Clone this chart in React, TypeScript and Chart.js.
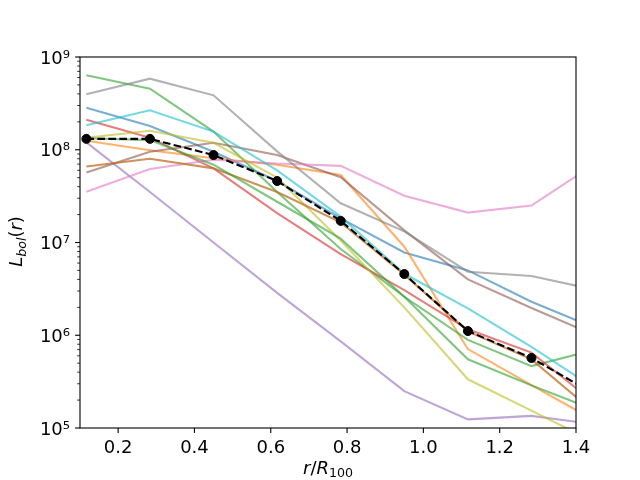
import React, { useEffect, useRef } from "react";
import { Chart, registerables } from "chart.js";

Chart.register(...registerables);

// Radial bin centres (r / R100)
const radii = [0.1167, 0.2833, 0.45, 0.6167, 0.7833, 0.95, 1.1167, 1.2833, 1.45];

// Axis ticks
const xTicks = [0.2, 0.4, 0.6, 0.8, 1.0, 1.2, 1.4];
const yTicks = [1e5, 1e6, 1e7, 1e8, 1e9];
const yTickLabels = ["10⁵", "10⁶", "10⁷", "10⁸", "10⁹"];

// Individual profiles L_bol(r)
const lumBlue = [2.84e8, 1.8e8, 9.5e7, 4.6e7, 1.82e7, 7.8e6, 5.0e6, 2.3e6, 1.2e6];
const lumOrange = [1.25e8, 9.9e7, 8.1e7, 6.9e7, 5.35e7, 9.0e6, 7.1e5, 2.9e5, 1.2e5];
const lumGreen = [6.35e8, 4.55e8, 1.57e8, 3.5e7, 8.5e6, 2.6e6, 8.9e5, 4.65e5, 7.0e5];
const lumRed = [2.11e8, 1.35e8, 6.3e7, 2.07e7, 7.5e6, 3.06e6, 1.16e6, 6.5e5, 1.85e5];
const lumPurple = [1.2e8, 3.5e7, 1.0e7, 2.86e6, 8.6e5, 2.5e5, 1.24e5, 1.35e5, 1.1e5];
const lumBrown = [5.7e7, 9.5e7, 1.19e8, 8.8e7, 5.05e7, 1.35e7, 4.0e6, 1.97e6, 1.0e6];
const lumPink = [3.53e7, 6.2e7, 7.8e7, 7.1e7, 6.7e7, 3.2e7, 2.1e7, 2.5e7, 7.1e7];
const lumGray = [3.96e8, 5.84e8, 3.86e8, 9.6e7, 2.65e7, 1.32e7, 4.84e6, 4.35e6, 3.1e6];
const lumOlive = [1.35e8, 1.6e8, 1.19e8, 5.0e7, 1.05e7, 2.0e6, 3.35e5, 1.54e5, 7.0e4];
const lumCyan = [1.84e8, 2.66e8, 1.57e8, 6.0e7, 1.9e7, 4.6e6, 1.95e6, 7.5e5, 2.67e5];
const lumDarkOrange = [6.6e7, 8.0e7, 6.3e7, 3.5e7, 1.65e7, 4.5e6, 1.1e6, 5.5e5, 1.45e5];
const lumGreen2 = [1.33e8, 1.27e8, 6.9e7, 2.75e7, 1.1e7, 2.6e6, 5.5e5, 2.88e5, 1.56e5];

// Median profile
const lumMedian = [1.31e8, 1.31e8, 8.77e7, 4.6e7, 1.71e7, 4.57e6, 1.11e6, 5.69e5, 2.3e5];

const profiles = [
  { vals: lumBlue, color: "rgba(31,119,180,0.6)" },
  { vals: lumOrange, color: "rgba(255,127,14,0.6)" },
  { vals: lumGreen, color: "rgba(44,160,44,0.6)" },
  { vals: lumRed, color: "rgba(214,39,40,0.6)" },
  { vals: lumPurple, color: "rgba(148,103,189,0.6)" },
  { vals: lumBrown, color: "rgba(140,86,75,0.6)" },
  { vals: lumPink, color: "rgba(227,119,194,0.6)" },
  { vals: lumGray, color: "rgba(127,127,127,0.6)" },
  { vals: lumOlive, color: "rgba(188,189,34,0.6)" },
  { vals: lumCyan, color: "rgba(23,190,207,0.6)" },
  { vals: lumDarkOrange, color: "rgba(190,110,35,0.75)" },
  { vals: lumGreen2, color: "rgba(44,160,44,0.6)" },
];

const FONT = '"DejaVu Sans", "Liberation Sans", sans-serif';
const FS = 18;

type Seg = { t: string; it?: boolean; sub?: boolean };

function drawMath(ctx: CanvasRenderingContext2D, segs: Seg[], cx: number, baseline: number) {
  const fontOf = (s: Seg) => `${s.it ? "italic " : ""}${s.sub ? FS * 0.7 : FS}px ${FONT}`;
  const widths = segs.map((s) => {
    ctx.font = fontOf(s);
    return ctx.measureText(s.t).width;
  });
  const total = widths.reduce((a, b) => a + b, 0);
  let x = cx - total / 2;
  ctx.textAlign = "left";
  ctx.textBaseline = "alphabetic";
  ctx.fillStyle = "#000";
  segs.forEach((s, i) => {
    ctx.font = fontOf(s);
    ctx.fillText(s.t, x, baseline + (s.sub ? FS * 0.2 : 0));
    x += widths[i];
  });
}

const frameTicksPlugin = {
  id: "frameTicks",
  afterDraw(chart: any) {
    const { ctx, chartArea: a, scales } = chart;
    const xs = scales.x;
    const ys = scales.y;
    ctx.save();
    ctx.strokeStyle = "#000";
    // x major ticks
    ctx.lineWidth = 1.1;
    xTicks.forEach((v) => {
      const px = xs.getPixelForValue(v);
      ctx.beginPath();
      ctx.moveTo(px, a.bottom);
      ctx.lineTo(px, a.bottom + 4.9);
      ctx.stroke();
    });
    // y major ticks
    yTicks.forEach((v) => {
      const py = ys.getPixelForValue(v);
      ctx.beginPath();
      ctx.moveTo(a.left - 4.9, py);
      ctx.lineTo(a.left, py);
      ctx.stroke();
    });
    // y minor ticks
    ctx.lineWidth = 0.8;
    for (let k = 5; k < 9; k++) {
      for (let m = 2; m <= 9; m++) {
        const py = ys.getPixelForValue(m * Math.pow(10, k));
        ctx.beginPath();
        ctx.moveTo(a.left - 2.8, py);
        ctx.lineTo(a.left, py);
        ctx.stroke();
      }
    }
    // frame
    ctx.lineWidth = 1.1;
    ctx.strokeRect(a.left, a.top, a.right - a.left, a.bottom - a.top);

    // x label: r/R_100
    drawMath(
      ctx,
      [{ t: "r", it: true }, { t: "/" }, { t: "R", it: true }, { t: "100", sub: true }],
      (a.left + a.right) / 2,
      473.5
    );
    // y label: L_bol(r)
    ctx.save();
    ctx.translate(22, (a.top + a.bottom) / 2 - 1);
    ctx.rotate(-Math.PI / 2);
    drawMath(
      ctx,
      [{ t: "L", it: true }, { t: "bol", it: true, sub: true }, { t: "(" }, { t: "r", it: true }, { t: ")" }],
      0,
      0
    );
    ctx.restore();
    ctx.restore();
  },
};

export default function App() {
  const ref = useRef<HTMLCanvasElement>(null);

  useEffect(() => {
    const canvas = ref.current;
    if (!canvas) return;

    const datasets: any[] = profiles.map((p, i) => ({
      data: radii.map((r, j) => ({ x: r, y: p.vals[j] })),
      borderColor: p.color,
      backgroundColor: p.color,
      borderWidth: 2.08,
      pointRadius: 0,
      tension: 0,
      clip: 0,
      order: 100 - i,
    }));
    datasets.push({
      data: radii.map((r, j) => ({ x: r, y: lumMedian[j] })),
      borderColor: "#000",
      backgroundColor: "#000",
      borderWidth: 2.08,
      borderDash: [7.7, 3.3],
      pointRadius: 4.5,
      pointBorderWidth: 1,
      pointBackgroundColor: "#000",
      pointBorderColor: "#000",
      tension: 0,
      clip: 0,
      order: 0,
    });

    const chart = new Chart(canvas, {
      type: "line",
      data: { datasets },
      options: {
        responsive: false,
        animation: false,
        layout: { padding: { top: 57, right: 64, left: 0, bottom: 0 } },
        plugins: {
          legend: { display: false },
          tooltip: { enabled: false },
        },
        scales: {
          x: {
            type: "linear",
            min: 0.1,
            max: 1.4,
            grid: { display: false, drawTicks: false },
            border: { display: false },
            ticks: {
              padding: 10,
              autoSkip: false,
              maxRotation: 0,
              color: "#000",
              font: { family: FONT, size: FS },
              callback: (v: any) => Number(v).toFixed(1),
            },
            afterBuildTicks: (s: any) => {
              s.ticks = xTicks.map((v) => ({ value: v }));
            },
            afterFit: (s: any) => {
              s.height = 52;
            },
          },
          y: {
            type: "logarithmic",
            min: 1e5,
            max: 1e9,
            grid: { display: false, drawTicks: false },
            border: { display: false },
            ticks: {
              padding: 10,
              autoSkip: false,
              labelOffset: 2,
              color: "#000",
              font: { family: FONT, size: FS },
              callback: (v: any) => {
                const idx = yTicks.findIndex((t) => Math.abs(Math.log10(t) - Math.log10(Number(v))) < 1e-6);
                return idx >= 0 ? yTickLabels[idx] : "";
              },
            },
            afterBuildTicks: (s: any) => {
              s.ticks = yTicks.map((v) => ({ value: v }));
            },
            afterFit: (s: any) => {
              s.width = 80;
            },
          },
        },
      } as any,
      plugins: [frameTicksPlugin],
    });

    return () => chart.destroy();
  }, []);

  return (
    <div style={{ position: "absolute", left: 0, top: 0, width: 640, height: 480, background: "#fff" }}>
      <canvas ref={ref} width={640} height={480} style={{ width: 640, height: 480, display: "block" }} />
    </div>
  );
}
